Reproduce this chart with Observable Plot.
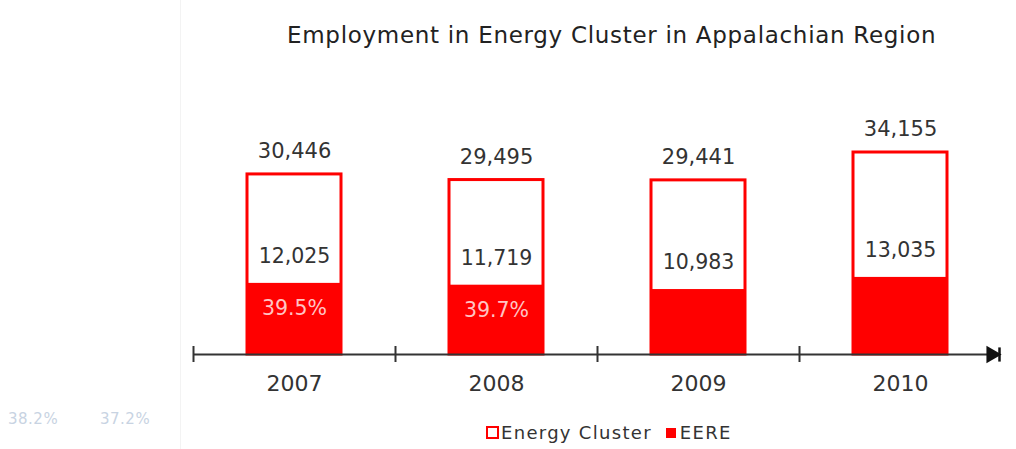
<!DOCTYPE html>
<html>
<head>
<meta charset="utf-8">
<script src="https://cdn.jsdelivr.net/npm/d3@7"></script>
<script src="https://cdn.jsdelivr.net/npm/@observablehq/plot@0.6"></script>
<style>
  html, body { margin: 0; padding: 0; background: #fff; }
  #wrap { position: relative; width: 1016px; height: 449px; overflow: hidden; font-family: "DejaVu Sans", sans-serif; }
  #title { position: absolute; left: 287px; width: 648px; top: 22px; text-align: center; font-size: 23px; color: #222; letter-spacing: 0.7px; white-space: nowrap; }
  #legend { position: absolute; left: 486px; top: 422px; font-size: 18px; color: #333; display: flex; align-items: center; white-space: nowrap; letter-spacing: 1.3px; }
  .sw1 { display: inline-block; width: 9px; height: 9px; border: 2.5px solid #ff0000; background: #fff; margin-right: 2px; }
  .sw2 { display: inline-block; width: 10px; height: 10px; background: #ff0000; margin-left: 14px; margin-right: 4px; }
  .faint { position: absolute; top: 410px; font-size: 15px; color: #c8d3e2; letter-spacing: 0.5px; }
  #edge { position: absolute; left: 180px; top: 0; width: 1px; height: 449px; background: #f3f3f3; }
  #chart { position: absolute; left: 0; top: 0; }
</style>
</head>
<body>
<div id="wrap">
  <div id="chart"></div>
  <div id="edge"></div>
  <div id="title">Employment in Energy Cluster in Appalachian Region</div>
  <div id="legend"><span class="sw1"></span>Energy Cluster<span class="sw2"></span>EERE</div>
  <div class="faint" style="left:8px">38.2%</div>
  <div class="faint" style="left:100px">37.2%</div>
</div>
<script>
const years = ["2007", "2008", "2009", "2010"];
const energyCluster = [30446, 29495, 29441, 34155];
const eere = [12025, 11719, 10983, 13035];
const eereShare = ["39.5%", "39.7%", "", ""];

const data = years.map((year, i) => ({
  year,
  total: energyCluster[i],
  eere: eere[i],
  share: eereShare[i]
}));

const fmt = d3.format(",");
const font = "DejaVu Sans, sans-serif";

// vertical bar symbol for the arrow end
const vbar = {
  draw(context, size) {
    const h = Math.sqrt(size);
    context.moveTo(0, -h);
    context.lineTo(0, h);
  }
};

const chart = Plot.plot({
  width: 1016,
  height: 449,
  marginLeft: 193,
  marginRight: 15,
  marginTop: 0,
  marginBottom: 0,
  style: { fontFamily: font, background: "transparent", overflow: "visible" },
  x: { domain: years, paddingInner: 0.535, paddingOuter: 0.2675, label: null },
  y: { domain: [0, 34155], range: [354, 152], axis: null },
  marks: [
    Plot.barY(data, { x: "year", y: "total", fill: "#ffffff", stroke: "#ff0000", strokeWidth: 3 }),
    Plot.barY(data, { x: "year", y: "eere", fill: "#ff0000" }),
    Plot.ruleY([0], { stroke: "#333", strokeWidth: 2, insetRight: 6 }),
    Plot.ruleX(data, { x: "year", y1: 0, y2: 0, dx: -101, insetTop: -8, insetBottom: -8, stroke: "#333", strokeWidth: 2 }),
    Plot.dot([0], { y: d => d, frameAnchor: "right", dx: -10, symbol: "triangle", rotate: 90, r: 6.5, fill: "#111", stroke: "none" }),
    Plot.dot([0], { y: d => d, frameAnchor: "right", dx: -2, symbol: vbar, r: 4, stroke: "#111", strokeWidth: 2.5, fill: "none" }),
    Plot.text(data, { x: "year", y: "total", text: d => fmt(d.total), dy: -23, fontSize: 21, fill: "#333", fontFamily: font }),
    Plot.text(data, { x: "year", y: "eere", text: d => fmt(d.eere), dy: -27, fontSize: 20.5, fill: "#333", fontFamily: font }),
    Plot.text(data, { x: "year", y: "eere", text: "share", dy: 25, fontSize: 20.5, fill: "#ffc4c4", fontFamily: font }),
    Plot.axisX({ tickSize: 0, tickPadding: 21, fontSize: 22, fill: "#333", label: null, y: 0 })
  ]
});

document.getElementById("chart").appendChild(chart);
</script>
</body>
</html>
